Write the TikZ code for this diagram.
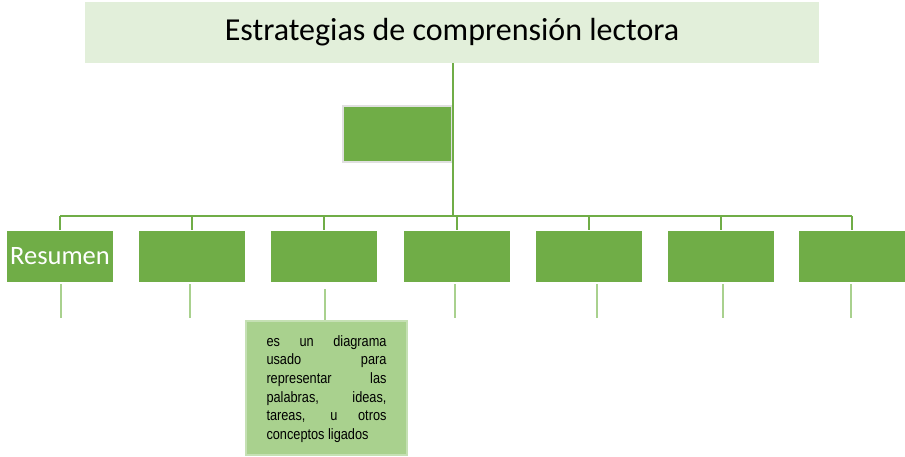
\documentclass[tikz,border=0pt]{standalone}
\usepackage{fontspec}
\setmainfont{Carlito}
\newfontfamily\notefont[FakeStretch=0.85]{Liberation Sans}
\usepackage{tikz}
\usetikzlibrary{calc}

\definecolor{leafgreen}{HTML}{70AD47}
\definecolor{palegreen}{HTML}{E2EFDA}
\definecolor{midgreen}{HTML}{A9D18E}
\definecolor{rimgreen}{HTML}{C5E0B4}

\tikzset{
  topbox/.style={rectangle, fill=palegreen, minimum width=734pt, minimum height=61pt, inner sep=0pt},
  subbox/.style={rectangle, fill=leafgreen, draw=white, line width=0.8pt, minimum width=107pt, minimum height=52pt, inner sep=0pt},
  notebox/.style={rectangle, fill=midgreen, draw=rimgreen, line width=2pt, minimum width=161pt, minimum height=134pt, inner sep=0pt},
  link/.style={draw=leafgreen, line width=2pt},
  stub/.style={draw=midgreen, line width=1.5pt}
}

\begin{document}
\begin{tikzpicture}[x=1pt,y=-1pt]
				\useasboundingbox (0,0) rectangle (905,456);
				% title and the box below it
				\node[topbox, font=\fontsize{32}{38}\selectfont] (title) at (452,32.5) {\raisebox{-3pt}{Estrategias de comprensión lectora}};
				\node[subbox, draw=black!12, line width=2pt, minimum width=109pt, minimum height=56pt] (mid) at (397.5,134) {};
				\coordinate (hub) at (453,216);
				\draw[link, line width=2.8pt] (title.south -| hub) -- (hub);
				% row of boxes
				\foreach \i/\x/\s in {1/60/61,2/191.5/190,3/323.5/325,4/456.5/455,5/588.5/597,6/720.5/723,7/852/851}{
					\node[subbox] (b\i) at (\x,256) {};
					\draw[link] (b\i.north) -- (b\i.north |- hub);
					\coordinate (s\i) at (\s,318);
				}
				\node[text=white, font=\fontsize{26.5}{30}\selectfont] at (b1) {Resumen};
				\draw[link] (b1.north |- hub) -- (b7.north |- hub);
				% note under the third box
				\node[notebox] (note) at (326.5,388) {};
				\node[text width=120pt, align=justify, inner sep=0pt, font=\notefont\fontsize{15}{18.7}\selectfont] at ($(note)+(0,1)$) {\hbadness=10000
					es un diagrama\linebreak usado para\linebreak representar las\linebreak palabras, ideas,\linebreak tareas, u otros\linebreak conceptos ligados};
				\foreach \i in {1,2,4,5,6,7}
					\draw[stub] ($(b\i.south -| s\i)+(0,2)$) -- (s\i);
				\draw[stub] ($(b3.south -| s3)+(0,7)$) -- (note.north -| s3);
			\end{tikzpicture}
\end{document}
